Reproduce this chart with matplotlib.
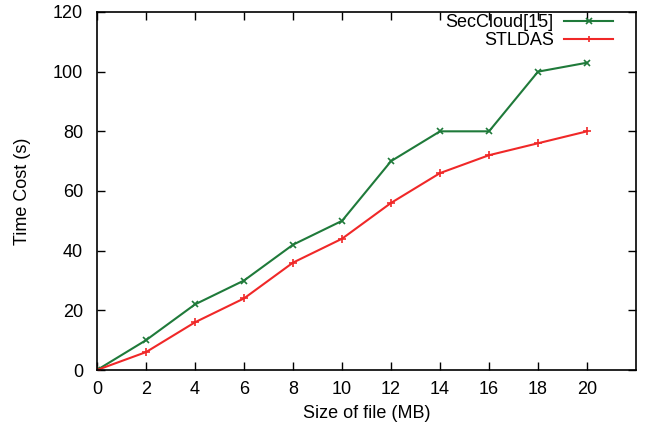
import matplotlib
matplotlib.use("Agg")
import matplotlib.pyplot as plt

sizes = [0, 2, 4, 6, 8, 10, 12, 14, 16, 18, 20]
seccloud = [0, 10, 22, 30, 42, 50, 70, 80, 80, 100, 103]
stldas = [0, 6, 16, 24, 36, 44, 56, 66, 72, 76, 80]
xticks = [0, 2, 4, 6, 8, 10, 12, 14, 16, 18, 20]
yticks = [0, 20, 40, 60, 80, 100, 120]

plt.rcParams['font.family'] = ['Liberation Sans', 'DejaVu Sans']
fig = plt.figure(figsize=(6.49, 4.28), dpi=100)
ax = fig.add_axes([0.1495, 0.1355, 0.8305, 0.8365])

ax.plot(sizes, seccloud, color='#1f7a3a', marker='x', markersize=5, linewidth=1.5,
        markeredgewidth=1.2, label='SecCloud[15]')
ax.plot(sizes, stldas, color='#f02828', marker='+', markersize=6, linewidth=1.5,
        markeredgewidth=1.2, label='STLDAS')

ax.set_xlim(0, 22)
ax.set_ylim(0, 120)
ax.set_xticks(xticks)
ax.set_yticks(yticks)
ax.tick_params(direction='in', length=6, width=1, top=True, right=True, labelsize=13)
ax.tick_params(axis='y', pad=10)
ax.tick_params(axis='x', pad=8)
for s in ax.spines.values():
    s.set_linewidth(1.2)
ax.set_xlabel('Size of file (MB)', fontsize=13, labelpad=5)
ax.set_ylabel('Time Cost (s)', fontsize=13, labelpad=16)

leg = ax.legend(loc='upper right', bbox_to_anchor=(0.971, 1.014), frameon=False, fontsize=13,
                markerfirst=False, handlelength=2.7, handletextpad=0.6, borderaxespad=0.0,
                labelspacing=0.05, markerscale=0.8)
for t in leg.get_texts():
    t.set_ha('right')
leg._legend_box.align = 'right'

fig.savefig('out.png', dpi=100)
